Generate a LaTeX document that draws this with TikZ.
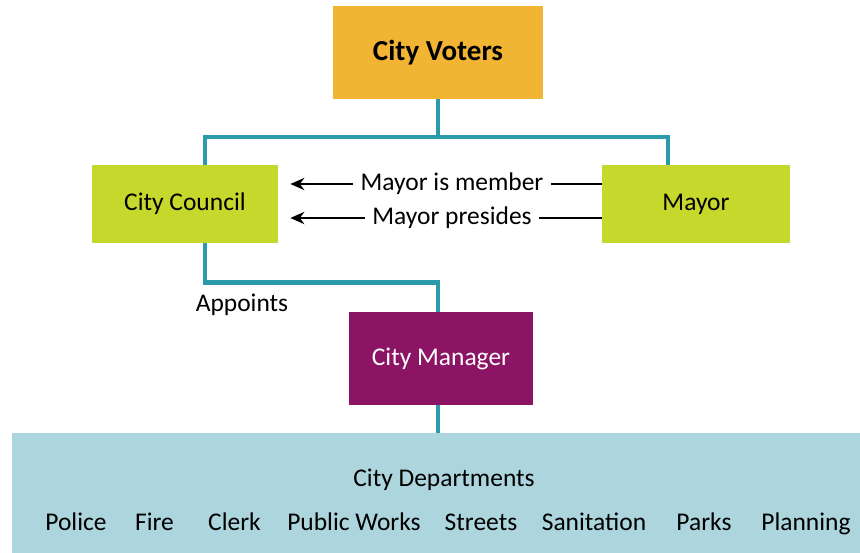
\documentclass[tikz,border=0pt]{standalone}
\usepackage{fontspec}
\setmainfont{Carlito}
\usetikzlibrary{arrows.meta}
\definecolor{cvorange}{HTML}{F2B533}
\definecolor{cvgreen}{HTML}{C6D82B}
\definecolor{cvpurple}{HTML}{8C1465}
\definecolor{cvband}{HTML}{ADD5DD}
\definecolor{cvteal}{HTML}{2B9AAA}
\begin{document}
\begin{tikzpicture}[
    box/.style={draw=none, inner sep=0pt, font=\fontsize{14.5}{17}\selectfont},
    link/.style={draw=cvteal, line width=2.6pt},
    pointer/.style={draw=black, line width=1pt},
    label/.style={inner sep=4pt, font=\fontsize{14.5}{17}\selectfont}]
  \useasboundingbox (0,0) rectangle (17.2,-11.06);
  % the departments band at the bottom
  \node[box, fill=cvband, minimum width=16.96cm, minimum height=2.4cm] (depts) at (8.72,-9.86) {};
  \node[label] (deptstitle) at (8.88,-9.60) {City Departments};
  \foreach \x/\d [count=\i] in {1.52/Police, 3.09/Fire, 4.69/Clerk, 7.08/Public Works,
                                9.62/Streets, 11.88/Sanitation, 14.08/Parks, 16.12/Planning}{
    \node[label, anchor=base] (dept\i) at (\x,-10.60) {\d};
  }
  % boxes
  \node[box, fill=cvorange, minimum width=4.2cm, minimum height=1.86cm,
        font=\fontsize{16.5}{19}\selectfont\bfseries] (voters) at (8.76,-1.05) {City Voters};
  \node[box, fill=cvgreen, minimum width=3.72cm, minimum height=1.56cm] (council) at (3.70,-4.08) {City Council};
  \node[box, fill=cvgreen, minimum width=3.76cm, minimum height=1.56cm] (mayor) at (13.92,-4.08) {Mayor};
  \node[box, fill=cvpurple, text=white, minimum width=3.68cm, minimum height=1.86cm] (manager) at (8.82,-7.17) {City Manager};
  % tree links (the drops are off centre, as in the chart)
  \coordinate (split) at (8.76,-2.74);
  \coordinate (cleft) at (4.10,0);
  \coordinate (mright) at (13.36,0);
  \coordinate (mid) at (8.76,0);
  \draw[link] (voters.south) -- (split);
  \draw[link] (council.north -| cleft) |- (split) -| (mayor.north -| mright);
  \draw[link] (council.south -| cleft) -- ++(0,-0.78) -| (manager.north -| mid);
  \draw[link] (manager.south -| mid) -- (depts.north -| mid);
  \node[label] (appoints) at (4.84,-6.10) {Appoints};
  % mayor to council notes
  \node[label] (member) at (9.04,-3.68) {Mayor is member};
  \node[label] (presides) at (9.04,-4.36) {Mayor presides};
  \foreach \n in {member,presides}{
    \draw[pointer] (mayor.west |- \n.east) -- (\n.east);
    \draw[pointer, -{Stealth[length=8pt,width=7pt]}, shorten >=0.24cm] (\n.west) -- (council.east |- \n.west);
  }
\end{tikzpicture}
\end{document}
